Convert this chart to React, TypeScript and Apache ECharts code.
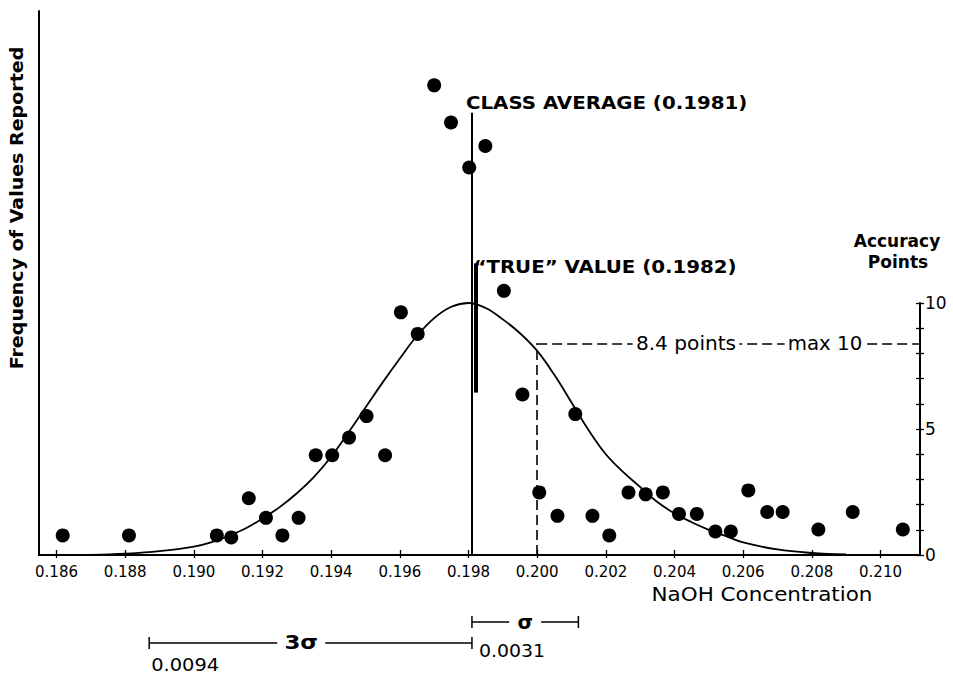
import React, { useEffect, useRef } from "react";
import * as echarts from "echarts";

// ---- data ----
const X_TICKS = [0.186, 0.188, 0.19, 0.192, 0.194, 0.196, 0.198, 0.2, 0.202, 0.204, 0.206, 0.208, 0.21];
const POINT_TICK_LABELS = [0, 5, 10];

// reported NaOH concentrations and how often each was reported
const DOT_X = [
  0.18618, 0.18811, 0.19067, 0.19109, 0.1916, 0.1921, 0.19258, 0.19305, 0.19355, 0.19403,
  0.19452, 0.19503, 0.19557, 0.19603, 0.19652, 0.197, 0.19749, 0.19802, 0.19849, 0.19903,
  0.19957, 0.20006, 0.20059, 0.20111, 0.20161, 0.2021, 0.20266, 0.20316, 0.20366, 0.20413,
  0.20465, 0.20519, 0.20564, 0.20615, 0.2067, 0.20715, 0.20819, 0.20919, 0.21065,
];
const DOT_FREQ = [
  1.0, 1.0, 1.0, 0.9, 2.9, 1.9, 1.0, 1.9, 5.1, 5.1,
  6.0, 7.1, 5.1, 12.4, 11.3, 24.0, 22.1, 19.8, 20.9, 13.5,
  8.2, 3.2, 2.0, 7.2, 2.0, 1.0, 3.2, 3.1, 3.2, 2.1,
  2.1, 1.2, 1.2, 3.3, 2.2, 2.2, 1.3, 2.2, 1.3,
];

// accuracy-points curve
const CURVE_X = [
  0.187, 0.188, 0.189, 0.19, 0.1905, 0.191, 0.1915, 0.192, 0.1925, 0.193, 0.1935, 0.194,
  0.1945, 0.195, 0.1955, 0.196, 0.1965, 0.197, 0.1975, 0.198, 0.1985, 0.199, 0.1995, 0.2,
  0.2005, 0.201, 0.2015, 0.202, 0.2025, 0.203, 0.2035, 0.204, 0.2045, 0.205, 0.2055, 0.206,
  0.207, 0.208, 0.209,
];
const CURVE_POINTS = [
  0, 0.05, 0.15, 0.33, 0.5, 0.75, 1.05, 1.45, 1.9, 2.45, 3.1, 3.9,
  4.85, 5.85, 6.85, 7.8, 8.7, 9.4, 9.85, 10, 9.8, 9.35, 8.8, 8.1,
  7.15, 6.05, 4.95, 4.0, 3.3, 2.7, 2.1, 1.65, 1.3, 1.0, 0.75, 0.5,
  0.22, 0.08, 0.02,
];

const CLASS_AVERAGE = 0.1981;
const TRUE_VALUE = 0.1982;
const SIGMA = 0.0031;
const THREE_SIGMA = 0.0094;
const SCORE_X = 0.2;
const SCORE_POINTS = 8.4;
const MAX_POINTS = 10;

// ---- layout ----
const XMIN = 0.18549;
const XMAX = 0.21115;
const FREQ_MAX = 27.8;
const CLASS_LINE_TOP = 22.6; // in frequency units
const TRUE_SEG_LOW = 8.3;
const TRUE_SEG_HIGH = 14.9;
const FONT = '"DejaVu Sans", sans-serif';
const INK = "#000";

export default function App() {
  const ref = useRef<HTMLDivElement>(null);

  useEffect(() => {
    const chart = echarts.init(ref.current!, null, { renderer: "svg" });

    const option: any = {
      animation: false,
      backgroundColor: "#fff",
      grid: [
        { left: 39, right: 33, top: 11, bottom: 124 },
        { left: 39, right: 33, top: 303, bottom: 124 },
      ],
      xAxis: [
        {
          type: "value",
          gridIndex: 0,
          min: XMIN,
          max: XMAX,
          position: "bottom",
          axisLine: { show: true, onZero: false, lineStyle: { color: INK, width: 2 } },
          axisTick: { show: true, length: 3, customValues: X_TICKS, lineStyle: { color: INK, width: 1.3 } },
          axisLabel: {
            show: true,
            customValues: X_TICKS,
            formatter: (v: number) => v.toFixed(3),
            margin: 9,
            color: INK,
            fontSize: 15,
            fontFamily: FONT,
          },
          splitLine: { show: false },
        },
        {
          type: "value",
          gridIndex: 1,
          min: XMIN,
          max: XMAX,
          show: false,
        },
        {
          type: "value",
          gridIndex: 0,
          min: XMIN,
          max: XMAX,
          position: "bottom",
          axisLine: { show: false, onZero: false },
          axisTick: { show: true, inside: true, length: 5, customValues: X_TICKS, lineStyle: { color: INK, width: 1.3 } },
          axisLabel: { show: false },
          splitLine: { show: false },
        },
      ],
      yAxis: [
        {
          type: "value",
          gridIndex: 0,
          min: 0,
          max: FREQ_MAX,
          position: "left",
          axisLine: { show: true, onZero: false, lineStyle: { color: INK, width: 2 } },
          axisTick: { show: false },
          axisLabel: { show: false },
          splitLine: { show: false },
        },
        {
          type: "value",
          gridIndex: 1,
          min: 0,
          max: MAX_POINTS,
          interval: 1,
          position: "right",
          axisLine: { show: true, onZero: false, lineStyle: { color: INK, width: 2 } },
          axisTick: { show: true, length: 4, lineStyle: { color: INK, width: 1.3 } },
          axisLabel: {
            show: true,
            customValues: POINT_TICK_LABELS,
            margin: 5,
            color: INK,
            fontSize: 17,
            fontFamily: FONT,
          },
          splitLine: { show: false },
        },
        {
          type: "value",
          gridIndex: 1,
          min: 0,
          max: MAX_POINTS,
          interval: 1,
          position: "right",
          axisLine: { show: false },
          axisTick: { show: true, inside: true, length: 4, lineStyle: { color: INK, width: 1.3 } },
          axisLabel: { show: false },
          splitLine: { show: false },
        },
      ],
      series: [
        {
          type: "scatter",
          xAxisIndex: 0,
          yAxisIndex: 0,
          symbol: "circle",
          symbolSize: 14,
          itemStyle: { color: INK, opacity: 1 },
          data: DOT_X.map((x, i) => [x, DOT_FREQ[i]]),
          markLine: {
            silent: true,
            symbol: "none",
            label: { show: false },
            data: [
              [
                { coord: [CLASS_AVERAGE, 0], lineStyle: { color: INK, width: 2, type: "solid" } },
                { coord: [CLASS_AVERAGE, CLASS_LINE_TOP] },
              ],
              [
                { coord: [TRUE_VALUE, TRUE_SEG_LOW], lineStyle: { color: INK, width: 4, type: "solid" } },
                { coord: [TRUE_VALUE, TRUE_SEG_HIGH] },
              ],
            ],
          },
        },
        {
          type: "line",
          xAxisIndex: 1,
          yAxisIndex: 1,
          smooth: 0.4,
          showSymbol: false,
          symbol: "none",
          clip: false,
          lineStyle: { color: INK, width: 1.8 },
          data: CURVE_X.map((x, i) => [x, CURVE_POINTS[i]]),
          markLine: {
            silent: true,
            symbol: "none",
            label: { show: false },
            lineStyle: { color: INK, width: 1.6, type: [10, 5] },
            data: [
              [{ coord: [SCORE_X, 0] }, { coord: [SCORE_X, SCORE_POINTS] }],
              [{ coord: [SCORE_X, SCORE_POINTS] }, { coord: [XMAX, SCORE_POINTS] }],
            ],
          },
        },
      ],
    };

    chart.setOption(option);

    const px = (x: number) => chart.convertToPixel({ xAxisIndex: 0 }, x) as number;
    const pyF = (v: number) => chart.convertToPixel({ yAxisIndex: 0 }, v) as number;
    const pyA = (v: number) => chart.convertToPixel({ yAxisIndex: 1 }, v) as number;

    const text = (
      t: string,
      x: number,
      y: number,
      o: { size: number; bold?: boolean; align?: string; sx?: number; rot?: number; bg?: boolean }
    ) => ({
      type: "text",
      x,
      y,
      z: 100,
      scaleX: o.sx ?? 1,
      rotation: o.rot ?? 0,
      silent: true,
      style: {
        text: t,
        fill: INK,
        fontSize: o.size,
        fontWeight: o.bold ? "bold" : "normal",
        fontFamily: FONT,
        align: o.align ?? "center",
        verticalAlign: "middle",
        textAlign: o.align ?? "center",
        textVerticalAlign: "middle",
        backgroundColor: o.bg ? "#fff" : undefined,
        padding: o.bg ? [0, 3] : undefined,
      },
    });
    const line = (x1: number, y1: number, x2: number, y2: number, w = 1.5) => ({
      type: "line",
      z: 100,
      silent: true,
      shape: { x1, y1, x2, y2 },
      style: { stroke: INK, lineWidth: w },
    });

    const avgX = px(CLASS_AVERAGE);
    const trueX = px(TRUE_VALUE);
    const scoreY = pyA(SCORE_POINTS);

    // sigma brackets
    const sA = px(CLASS_AVERAGE);
    const sB = px(CLASS_AVERAGE + SIGMA);
    const sMid = (sA + sB) / 2;
    const sY = 622;
    const tL = px(CLASS_AVERAGE - THREE_SIGMA);
    const tR = px(CLASS_AVERAGE);
    const tY = 643;
    const tMid = tL + 152;

    const elements: any[] = [
      text("CLASS AVERAGE (0.1981)", avgX - 6, pyF(CLASS_LINE_TOP) - 10, { size: 18, bold: true, align: "left", sx: 1.1 }),
      text("\u201CTRUE\u201D VALUE (0.1982)", trueX - 2, pyF(TRUE_SEG_HIGH) + 3, { size: 18, bold: true, align: "left", sx: 1.1 }),
      text("8.4 points", 686, scoreY, { size: 19, sx: 1.06, bg: true }),
      text("max " + MAX_POINTS, 825, scoreY, { size: 19, sx: 1.04, bg: true }),
      text("Accuracy", 897, 241, { size: 17, bold: true }),
      text("Points", 898, 262, { size: 17, bold: true }),
      text("NaOH Concentration", 762, 594, { size: 19, sx: 1.13 }),
      text("Frequency of Values Reported", 17, 208, { size: 17, bold: true, sx: 1.12, rot: Math.PI / 2 }),
      // sigma bracket
      line(sA, sY, sMid - 16, sY),
      line(sMid + 16, sY, sB, sY),
      line(sA, sY - 6, sA, sY + 6),
      line(sB, sY - 6, sB, sY + 6),
      text("\u03C3", sMid, sY, { size: 20, bold: true }),
      text(SIGMA.toFixed(4), sA + 40, 651, { size: 18, sx: 1.05 }),
      // 3 sigma bracket
      line(tL, tY, tMid - 24, tY),
      line(tMid + 24, tY, tR, tY),
      line(tL, tY - 6, tL, tY + 6),
      line(tR, tY - 6, tR, tY + 6),
      text("3\u03C3", tMid, tY, { size: 19, bold: true, sx: 1.2 }),
      text(THREE_SIGMA.toFixed(4), tL + 36, 665, { size: 18, sx: 1.08 }),
    ];

    chart.setOption({ graphic: { elements } });

    return () => chart.dispose();
  }, []);

  return (
    <div
      ref={ref}
      style={{ position: "fixed", left: 0, top: 0, width: 953, height: 679, background: "#fff" }}
    />
  );
}
